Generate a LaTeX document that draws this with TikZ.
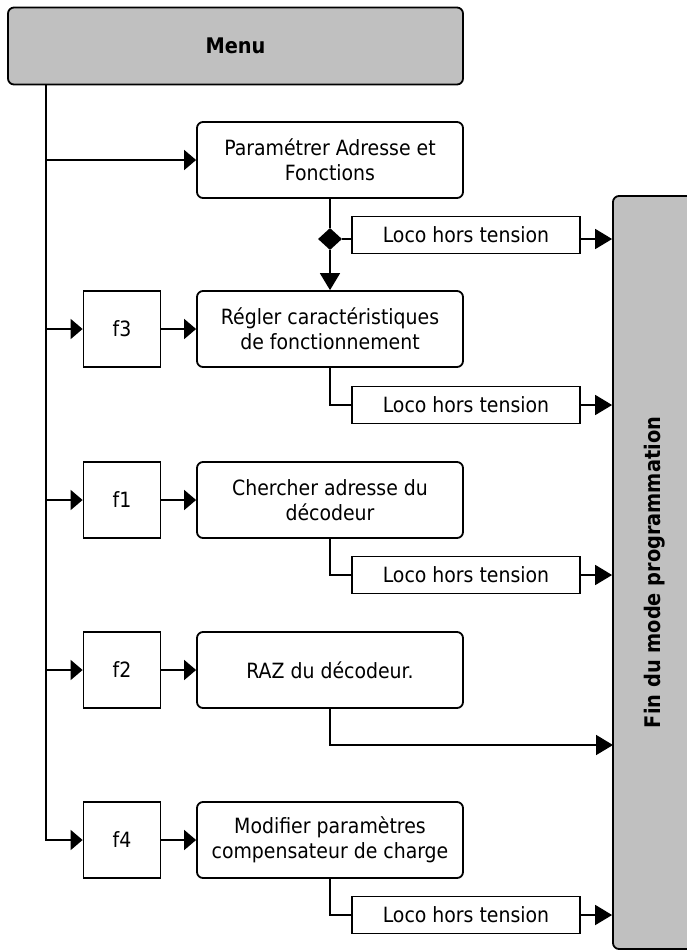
\documentclass[tikz,border=0pt]{standalone}
\usepackage{fontspec}
\setmainfont{DejaVu Sans Condensed}
\usetikzlibrary{shapes.geometric,arrows.meta}
\definecolor{boxgray}{RGB}{192,192,192}
\begin{document}
\begin{tikzpicture}[x=1pt,y=-1pt,
  base/.style={draw, line width=1.8pt, inner sep=0pt, align=center,
    font=\fontsize{21}{25}\selectfont},
  mainbox/.style={base, rounded corners=6pt, minimum width=266pt, minimum height=76pt},
  keybox/.style={base, minimum width=77pt, minimum height=76pt},
  locobox/.style={base, line width=1.5pt, minimum width=228pt, minimum height=37pt},
  graybox/.style={base, rounded corners=6pt, fill=boxgray},
  boldtext/.style={font=\bfseries\fontsize{21.5}{25}\selectfont},
  conn/.style={line width=1.8pt},
  harrow/.style={conn, -{Triangle[length=12pt,width=20pt]}},
  larrow/.style={conn, -{Triangle[length=17pt,width=20pt]}},
  dia/.style={diamond, fill=black, inner sep=0pt, minimum width=24pt, minimum height=22pt}
]
\useasboundingbox (0,0) rectangle (687,951);
\begin{scope}
\clip (0,0) rectangle (687,951);
% boxes
\node[graybox, boldtext, minimum width=455pt, minimum height=77pt] (menu) at (235.5,46) {Menu};
\node[graybox, minimum width=82pt, minimum height=753pt] (fin) at (654,572.5) {};
\node[boldtext, rotate=90] (fintext) at (655,572.5) {Fin du mode programmation};

\node[mainbox] (b1) at (330,160) {Paramétrer Adresse et\\Fonctions};
\node[mainbox] (b2) at (330,329) {Régler caractéristiques\\de fonctionnement};
\node[mainbox] (b3) at (330,500) {Chercher adresse du\\décodeur};
\node[mainbox] (b4) at (330,670) {RAZ du décodeur.};
\node[mainbox] (b5) at (330,840) {Modifier paramètres\\compensateur de charge};

\node[keybox] (f3) at (122,329) {f3};
\node[keybox] (f1) at (122,500) {f1};
\node[keybox] (f2) at (122,670) {f2};
\node[keybox] (f4) at (122,840) {f4};

\node[locobox] (l1) at (466,235) {Loco hors tension};
\node[locobox] (l2) at (466,405) {Loco hors tension};
\node[locobox] (l3) at (466,575) {Loco hors tension};
\node[locobox] (l5) at (466,915) {Loco hors tension};

\node[dia] (d1) at (330,239) {};

\coordinate (trunk) at (46,0);
\coordinate (r4) at (613,745);

% trunk and branches
\draw[harrow] (trunk |- menu.south) -- (trunk |- f4) -- (f4.west);
\draw[harrow] (trunk |- b1) -- (b1.west);
\draw[harrow] (trunk |- f3) -- (f3.west);
\draw[harrow] (trunk |- f1) -- (f1.west);
\draw[harrow] (trunk |- f2) -- (f2.west);

\draw[harrow] (f3.east) -- (b2.west);
\draw[harrow] (f1.east) -- (b3.west);
\draw[harrow] (f2.east) -- (b4.west);
\draw[harrow] (f4.east) -- (b5.west);

% box 1
\draw[conn] (b1.south) -- (d1.north);
\draw[larrow] (d1.south) -- (b2.north);
\draw[conn] (d1.east) -- (d1.east -| l1.west);
\draw[larrow] (l1.east |- d1) -- (fin.west |- d1);

% box 2, 3, 5
\draw[conn] (b2.south) |- (l2.west);
\draw[larrow] (l2.east) -- (l2.east -| fin.west);
\draw[conn] (b3.south) |- (l3.west);
\draw[larrow] (l3.east) -- (l3.east -| fin.west);
\draw[conn] (b5.south) |- (l5.west);
\draw[larrow] (l5.east) -- (l5.east -| fin.west);

% box 4
\draw[larrow] (b4.south) |- (r4);
\end{scope}
\end{tikzpicture}
\end{document}
